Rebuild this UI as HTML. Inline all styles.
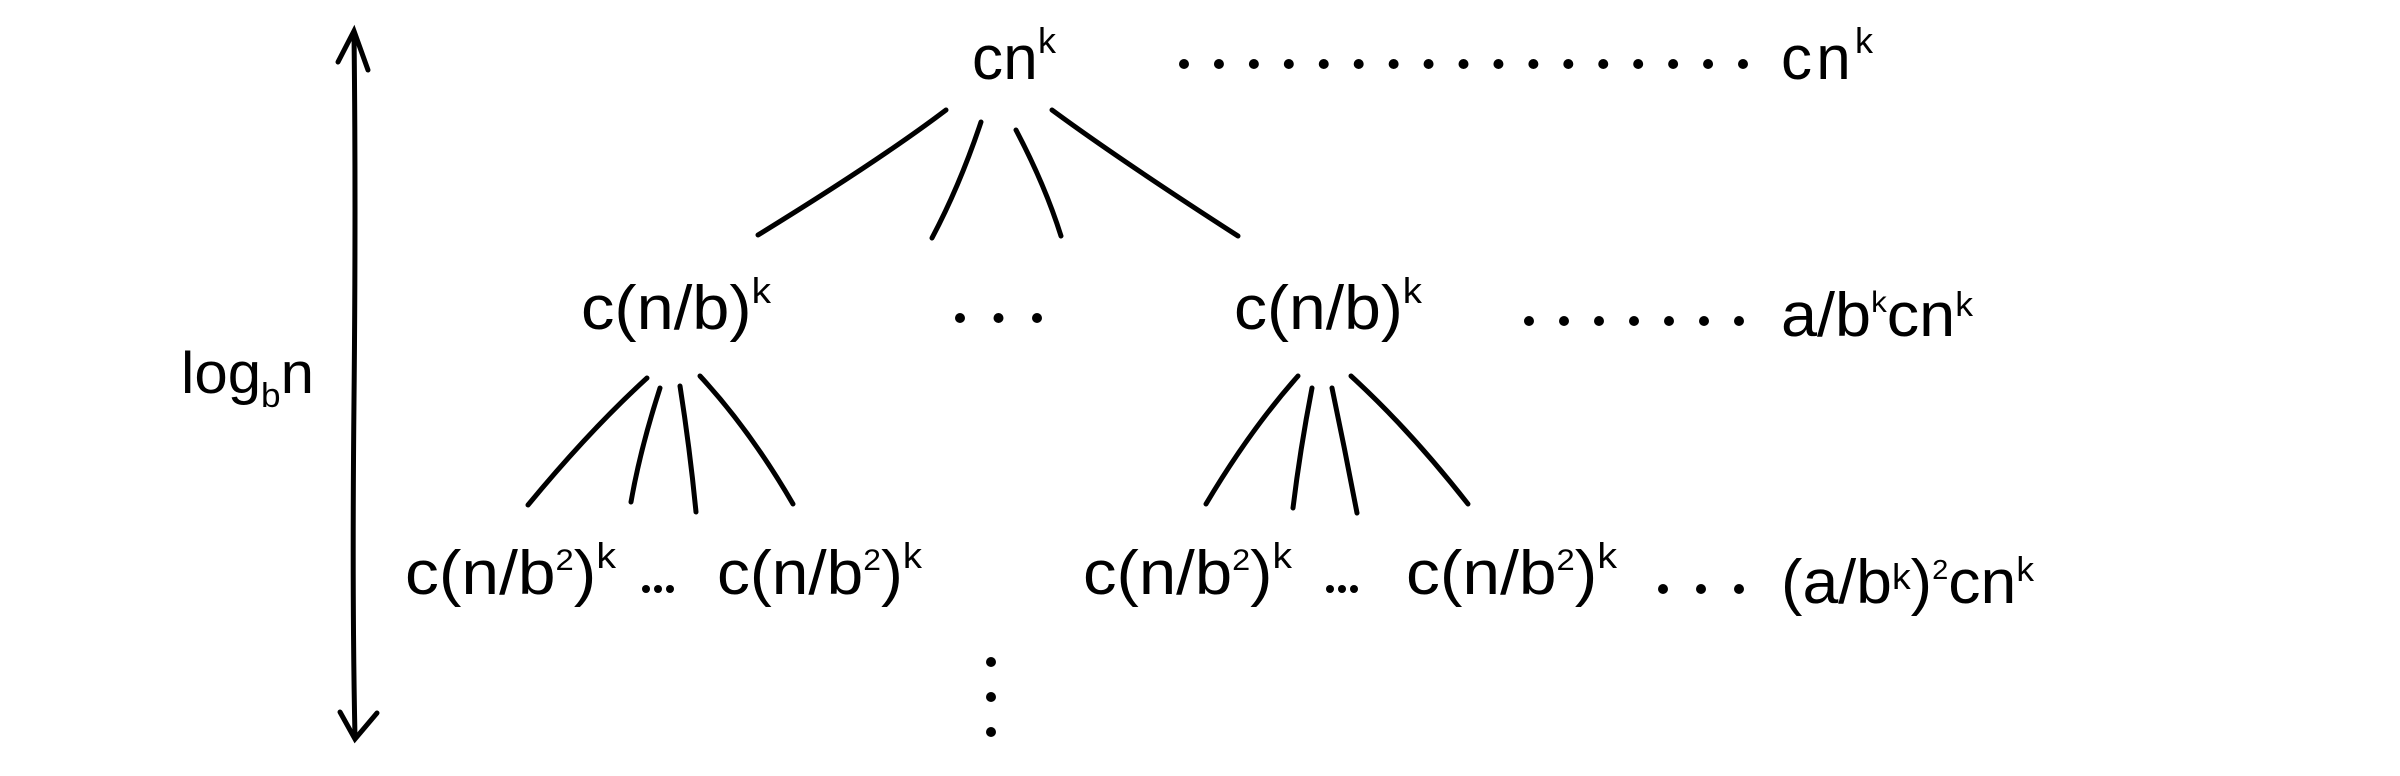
<!DOCTYPE html>
<html>
<head>
<meta charset="utf-8">
<style>
html,body{margin:0;padding:0;background:#fff;overflow:hidden;}
svg{display:block;}
text{font-family:"Liberation Sans",sans-serif;fill:#000;}
</style>
</head>
<body>
<svg width="2400" height="776" viewBox="0 0 2400 776" xmlns="http://www.w3.org/2000/svg">
<rect width="2400" height="776" fill="#fff"/>
<g stroke="#000" stroke-width="5" stroke-linecap="round" fill="none">
  <path d="M354 33 Q356 200 354 400 Q352 600 355 737"/>
  <path d="M338 62 L354 31 L368 70"/>
  <path d="M340 712 L355 739 L377 713"/>
</g>
<text x="181" y="393" font-size="58" textLength="133" lengthAdjust="spacingAndGlyphs">log<tspan font-size="34" dy="14">b</tspan><tspan dy="-14">n</tspan></text>

<g stroke="#000" stroke-width="5" stroke-linecap="round" fill="none">
  <path d="M946 110 Q880 160 758 235"/>
  <path d="M981 122 Q960 185 932 238"/>
  <path d="M1016 130 Q1045 185 1061 236"/>
  <path d="M1052 110 Q1120 160 1238 236"/>
  <path d="M647 378 Q590 430 528 505"/>
  <path d="M660 388 Q640 450 631 502"/>
  <path d="M680 386 Q690 450 696 512"/>
  <path d="M700 376 Q750 430 793 504"/>
  <path d="M1298 376 Q1250 430 1206 504"/>
  <path d="M1312 388 Q1300 450 1293 508"/>
  <path d="M1332 388 Q1345 450 1357 513"/>
  <path d="M1351 376 Q1410 430 1468 504"/>
</g>

<text x="972" y="79" font-size="62" textLength="84">cn<tspan font-size="36" dy="-26">k</tspan></text>
<text x="581" y="329" font-size="62" textLength="190" lengthAdjust="spacingAndGlyphs">c(n/b)<tspan font-size="36" dy="-26">k</tspan></text>
<text x="1234" y="329" font-size="62" textLength="188" lengthAdjust="spacingAndGlyphs">c(n/b)<tspan font-size="36" dy="-26">k</tspan></text>

<text x="405" y="594" font-size="62" textLength="211" lengthAdjust="spacingAndGlyphs">c(n/b<tspan font-size="30" dy="-24">2</tspan><tspan dy="24">)</tspan><tspan font-size="36" dy="-26">k</tspan></text>
<text x="717" y="594" font-size="62" textLength="205" lengthAdjust="spacingAndGlyphs">c(n/b<tspan font-size="30" dy="-24">2</tspan><tspan dy="24">)</tspan><tspan font-size="36" dy="-26">k</tspan></text>
<text x="1083" y="594" font-size="62" textLength="209" lengthAdjust="spacingAndGlyphs">c(n/b<tspan font-size="30" dy="-24">2</tspan><tspan dy="24">)</tspan><tspan font-size="36" dy="-26">k</tspan></text>
<text x="1406" y="594" font-size="62" textLength="211" lengthAdjust="spacingAndGlyphs">c(n/b<tspan font-size="30" dy="-24">2</tspan><tspan dy="24">)</tspan><tspan font-size="36" dy="-26">k</tspan></text>

<text x="1781" y="79" font-size="62" textLength="92">cn<tspan font-size="36" dy="-26">k</tspan></text>
<text x="1781" y="336" font-size="62" textLength="192" lengthAdjust="spacingAndGlyphs">a/b<tspan font-size="30" dy="-24">k</tspan><tspan dy="24">cn</tspan><tspan font-size="34" dy="-20">k</tspan></text>
<text x="1781" y="603" font-size="62" textLength="253" lengthAdjust="spacingAndGlyphs">(a/b<tspan font-size="36" dy="-14">k</tspan><tspan dy="14">)</tspan><tspan font-size="28" dy="-24">2</tspan><tspan dy="24">cn</tspan><tspan font-size="34" dy="-22">k</tspan></text>

<g fill="#000" id="dots"></g>
</svg>
<script>
const row1Count = 17;
const row2Count = 7;
const row3Count = 3;
const g = document.getElementById('dots');
function dot(x, y, r, name) {
  const c = document.createElementNS('http://www.w3.org/2000/svg', 'circle');
  c.setAttribute('cx', x); c.setAttribute('cy', y); c.setAttribute('r', r);
  
  
  g.appendChild(c);
}
for (let i = 0; i < row1Count; i++) dot(1184 + i * (1743 - 1184) / (row1Count - 1), 64, 5, 'leader-dot-row1');
for (let i = 0; i < row2Count; i++) dot(1529 + i * (1739 - 1529) / (row2Count - 1), 321, 5, 'leader-dot-row2');
for (let i = 0; i < row3Count; i++) dot(1663 + i * 38, 589, 5, 'leader-dot-row3');
for (let i = 0; i < 3; i++) dot(960 + i * 38.5, 318, 5, 'sibling-ellipsis-dot');
for (let i = 0; i < 3; i++) dot(646 + i * 12, 589, 4, 'ellipsis-level2-left-dot');
for (let i = 0; i < 3; i++) dot(1330 + i * 12, 589, 4, 'ellipsis-level2-right-dot');
for (let i = 0; i < 3; i++) dot(991, 662 + i * 35, 5, 'vertical-ellipsis-dot');
</script>
</body>
</html>
